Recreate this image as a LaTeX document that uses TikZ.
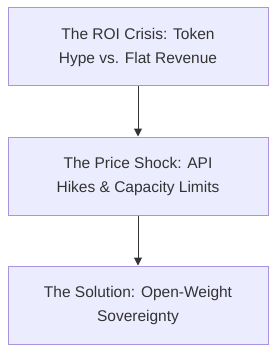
\documentclass[tikz,border=0pt]{standalone}
\usepackage{fontspec}
\setmainfont{Liberation Sans}
\usetikzlibrary{arrows.meta,positioning}
\definecolor{lav}{HTML}{ECECFF}
\definecolor{lavedge}{HTML}{A894E0}
\definecolor{ink}{HTML}{333333}

\begin{document}
\begin{tikzpicture}[
node distance=50pt,
box/.style={draw=lavedge,line width=1pt,fill=lav,minimum width=260pt,minimum height=78pt,
  align=center,text=ink,font=\fontsize{15.5}{24}\selectfont},
arr/.style={-{Triangle[length=8pt,width=8pt]},line width=1pt,color=ink}
]
\useasboundingbox (0,0) rectangle (276pt,-350pt);
\node[box] (roi) at (138pt,-47pt) {The ROI Crisis: Token\\Hype vs. Flat Revenue};
\node[box,below=of roi] (shock) {The Price Shock: API\\Hikes \& Capacity Limits};
\node[box,below=of shock] (sol) {The Solution: Open-Weight\\Sovereignty};
\draw[arr] (roi) -- (shock);
\draw[arr] (shock) -- (sol);
\end{tikzpicture}
\end{document}
